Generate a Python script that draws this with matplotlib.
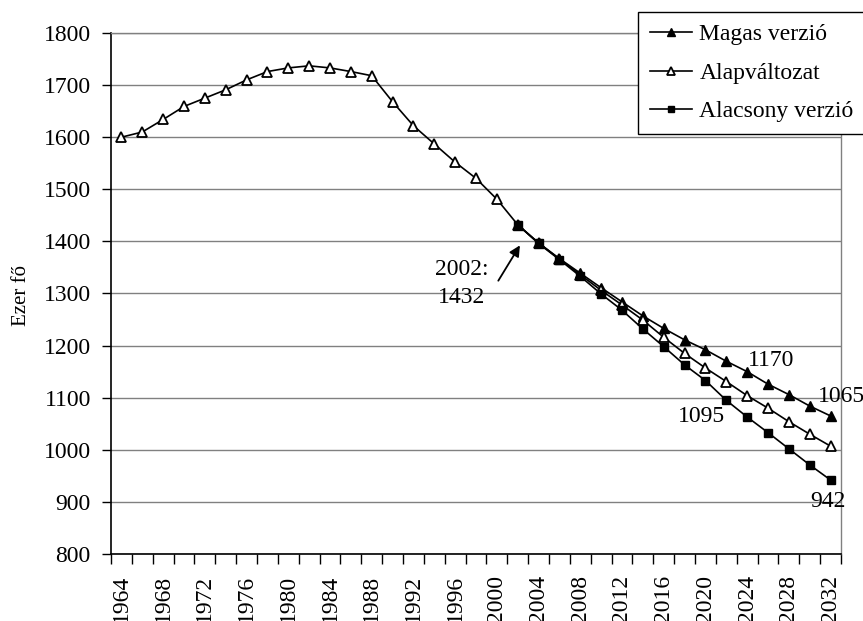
import matplotlib
matplotlib.use("Agg")
import matplotlib.pyplot as plt
from matplotlib.ticker import FixedLocator

plt.rcParams['font.family'] = ['Liberation Serif', 'DejaVu Serif']

# ---- data ----
hist_years = list(range(1964, 2003, 2))
hist_base = [1600, 1610, 1634, 1659, 1675, 1691, 1710, 1726, 1733, 1737,
             1733, 1726, 1718, 1668, 1622, 1587, 1552, 1521, 1481, 1432]
proj_years = list(range(2002, 2033, 2))
high = [1432, 1397, 1367, 1339, 1311, 1284, 1257, 1233, 1211, 1192,
        1170, 1150, 1126, 1106, 1084, 1065]
base = [1432, 1397, 1366, 1336, 1306, 1278, 1249, 1216, 1185, 1157,
        1131, 1104, 1080, 1054, 1030, 1007]
low = [1432, 1396, 1365, 1333, 1299, 1268, 1232, 1198, 1163, 1133,
       1095, 1063, 1033, 1002, 971, 942]
label_high = "Magas verzió"
label_base = "Alapváltozat"
label_low = "Alacsony verzió"
xtick_labels = list(range(1964, 2033, 4))
ytick_values = list(range(800, 1801, 100))

FS = 17

fig = plt.figure(figsize=(8.63, 6.21), dpi=100)
ax = fig.add_axes([111/863, 1-554/621, (841-111)/863, (554-33)/621])

lw = 1.2
all_base_years = hist_years + proj_years[1:]
all_base = hist_base + base[1:]

l1, = ax.plot(proj_years, high, color='black', lw=lw, marker='^', ms=7,
              mfc='black', mec='black', label=label_high, zorder=3)
l2, = ax.plot(all_base_years, all_base, color='black', lw=lw, marker='^', ms=7,
              mfc='white', mec='black', mew=1.3, label=label_base, zorder=4)
l3, = ax.plot(proj_years, low, color='black', lw=lw, marker='s', ms=5.5,
              mfc='black', mec='black', label=label_low, zorder=5)

ax.set_xlim(1963, 2033)
ax.set_ylim(800, 1800)

ax.xaxis.set_major_locator(FixedLocator(xtick_labels))
ax.set_xticklabels([str(v) for v in xtick_labels], rotation=90, fontsize=FS)
ax.xaxis.set_minor_locator(FixedLocator(list(range(1963, 2034, 2))))
ax.tick_params(axis='x', which='major', length=0, pad=15)
ax.tick_params(axis='x', which='minor', length=7, width=1, direction='out', color='black')

ax.set_yticks(ytick_values)
ax.set_yticklabels([str(v) for v in ytick_values], fontsize=FS)
ax.tick_params(axis='y', which='major', length=6.5, width=1, direction='out', pad=8)

ax.grid(axis='y', color='#808080', lw=1.0)
ax.set_axisbelow(True)
for s in ['top', 'right']:
    ax.spines[s].set_color('#808080')
    ax.spines[s].set_linewidth(1.0)
for s in ['left', 'bottom']:
    ax.spines[s].set_color('black')
    ax.spines[s].set_linewidth(1.2)

fig.text(21/863, 1-295/621, "Ezer fő", rotation=90, ha='center', va='center', fontsize=15)

# annotations
ax.annotate("", xy=(2002.35, 1397), xytext=(2000.0, 1320),
            arrowprops=dict(arrowstyle='-|>', color='black', lw=1.3, mutation_scale=16))
ax.text(1996.6, 1319, "2002:\n1432", ha='center', va='center', fontsize=FS, linespacing=1.4)
ax.text(2026.3, 1172, "1170", ha='center', va='center', fontsize=FS)
ax.text(2033.0, 1102, "1065", ha='center', va='center', fontsize=FS, clip_on=False)
ax.text(2019.6, 1063, "1095", ha='center', va='center', fontsize=FS)
ax.text(2031.7, 900, "942", ha='center', va='center', fontsize=FS, clip_on=False)

leg = fig.legend(handles=[l1, l2, l3], loc='upper left',
                 bbox_to_anchor=(638/863, 1-12/621), fontsize=FS,
                 frameon=True, fancybox=False, framealpha=1, edgecolor='black',
                 handlelength=1.8, handletextpad=0.3, borderpad=0.5,
                 labelspacing=0.72, markerscale=0.8, borderaxespad=0)
leg.get_frame().set_linewidth(1.0)

fig.savefig("out.png", dpi=100)
